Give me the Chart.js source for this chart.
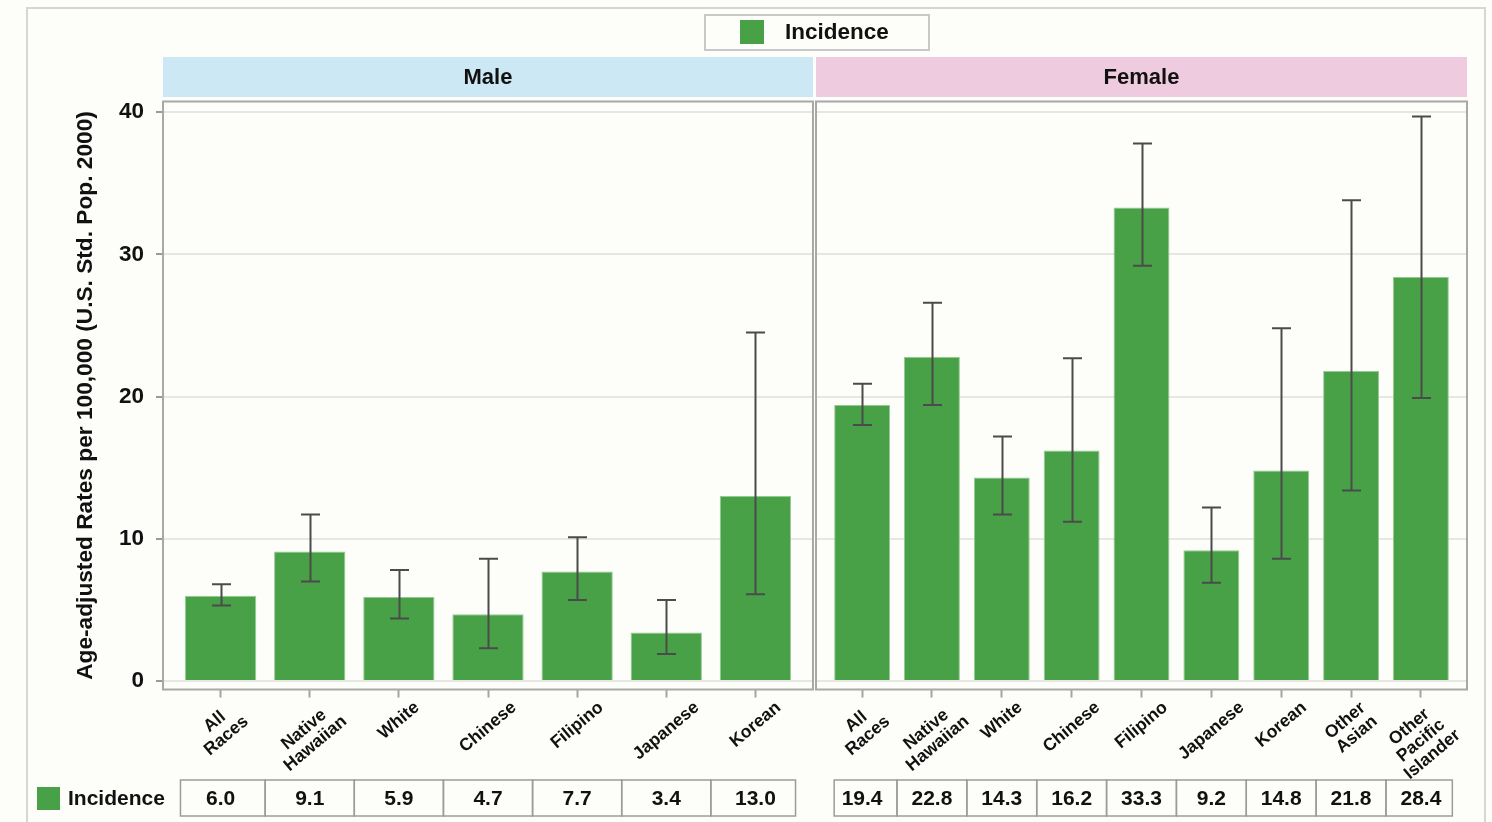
<!DOCTYPE html>
<html>
<head>
<meta charset="utf-8">
<title>Incidence by race and sex</title>
<script src="https://cdn.jsdelivr.net/npm/chart.js@4.4.1/dist/chart.umd.min.js"></script>
<style>
  html, body { margin: 0; padding: 0; background: #fdfdfa; }
  #wrap { position: relative; width: 1492px; height: 822px; overflow: hidden; }
  #frame { position: absolute; left: 26px; top: 7px; width: 1460px; height: 840px; border: 2px solid #d6d6d6; box-sizing: border-box; }
  canvas { position: absolute; left: 0; top: 0; }
</style>
</head>
<body>
<div id="wrap">
  <div id="frame"></div>
  <canvas id="male" width="1492" height="822"></canvas>
  <canvas id="female" width="1492" height="822"></canvas>
</div>
<script>
// rates per 100,000 with 95% confidence limits
var maleLabels = [['All', 'Races'], ['Native', 'Hawaiian'], 'White', 'Chinese', 'Filipino', 'Japanese', 'Korean'];
var maleRates = [6.0, 9.1, 5.9, 4.7, 7.7, 3.4, 13.0];
var maleLower = [5.3, 7.0, 4.4, 2.3, 5.7, 1.9, 6.1];
var maleUpper = [6.8, 11.7, 7.8, 8.6, 10.1, 5.7, 24.5];

var femaleLabels = [['All', 'Races'], ['Native', 'Hawaiian'], 'White', 'Chinese', 'Filipino', 'Japanese', 'Korean',
                    ['Other', 'Asian'], ['Other', 'Pacific', 'Islander']];
var femaleRates = [19.4, 22.8, 14.3, 16.2, 33.3, 9.2, 14.8, 21.8, 28.4];
var femaleLower = [18.0, 19.4, 11.7, 11.2, 29.2, 6.9, 8.6, 13.4, 19.9];
var femaleUpper = [20.9, 26.6, 17.2, 22.7, 37.8, 12.2, 24.8, 33.8, 39.7];

var yTicks = [0, 10, 20, 30, 40];
var seriesName = 'Incidence';

var FONT = '"Liberation Sans", Arial, Helvetica, sans-serif';
var GREEN = '#48a047';
var INK = '#111111';

// strip header, frame, error bars, rotated labels, value table and legends
var panelPlugin = {
    id: 'panel',
    beforeDatasetsDraw: function(chart) {
        var o = chart.options.plugins.panel, a = chart.chartArea, ctx = chart.ctx;
        ctx.save();
        ctx.fillStyle = o.stripColor;
        ctx.fillRect(a.left, 57, a.right - a.left, 40);
        ctx.fillStyle = INK;
        ctx.font = 'bold 22px ' + FONT;
        ctx.textAlign = 'center';
        ctx.textBaseline = 'middle';
        ctx.fillText(o.title, (a.left + a.right) / 2, 78);
        ctx.restore();
    },
    afterDatasetsDraw: function(chart) {
        var o = chart.options.plugins.panel, a = chart.chartArea, ctx = chart.ctx;
        var ys = chart.scales.y;
        var meta = chart.getDatasetMeta(0);
        ctx.save();
        // error bars
        ctx.strokeStyle = '#4b4b4b';
        ctx.lineWidth = 2;
        meta.data.forEach(function(bar, i) {
            var x = Math.round(bar.x) + 0.5;
            var top = ys.getPixelForValue(o.upper[i]);
            var bot = ys.getPixelForValue(o.lower[i]);
            ctx.beginPath();
            ctx.moveTo(x, top); ctx.lineTo(x, bot);
            ctx.moveTo(x - 9.5, top); ctx.lineTo(x + 9.5, top);
            ctx.moveTo(x - 9.5, bot); ctx.lineTo(x + 9.5, bot);
            ctx.stroke();
        });
        // panel frame
        ctx.strokeStyle = '#a8a8a8';
        ctx.lineWidth = 2;
        ctx.strokeRect(a.left, a.top, a.right - a.left, a.bottom - a.top);
        ctx.restore();
    },
    afterDraw: function(chart) {
        var o = chart.options.plugins.panel, a = chart.chartArea, ctx = chart.ctx;
        var xs = chart.scales.x;
        var labels = chart.data.labels;
        var values = chart.data.datasets[0].data;
        var ang = -40 * Math.PI / 180;
        var cos = Math.cos(-ang), sin = Math.sin(-ang);
        ctx.save();
        ctx.fillStyle = INK;

        // category labels, rotated and centred under each tick
        ctx.font = 'bold 17.5px ' + FONT;
        ctx.textAlign = 'center';
        ctx.textBaseline = 'middle';
        var lh = 18;
        labels.forEach(function(lab, i) {
            var lines = Array.isArray(lab) ? lab : [lab];
            var w = 0;
            lines.forEach(function(l) { w = Math.max(w, ctx.measureText(l).width); });
            var h = lines.length * lh;
            var bh = w * sin + h * cos;
            ctx.save();
            ctx.translate(xs.getPixelForValue(i), a.bottom + 9 + bh / 2);
            ctx.rotate(ang);
            lines.forEach(function(l, k) {
                ctx.fillText(l, 0, (k - (lines.length - 1) / 2) * lh);
            });
            ctx.restore();
        });

        // value table
        var step = xs.getPixelForValue(1) - xs.getPixelForValue(0);
        var tTop = 780, tH = 36;
        ctx.strokeStyle = '#9c9c9c';
        ctx.lineWidth = 1.5;
        ctx.font = 'bold 21px ' + FONT;
        values.forEach(function(d, i) {
            var cx = xs.getPixelForValue(i);
            var l = i === 0 ? cx - step * o.tableInset : cx - step / 2;
            var r = i === values.length - 1 ? cx + step * 0.45 : cx + step / 2;
            ctx.strokeRect(l, tTop, r - l, tH);
            ctx.fillText(d.y.toFixed(1), cx, tTop + tH / 2 + 1);
        });

        if (o.legends) {
            var name = chart.data.datasets[0].label;
            // row legend beside the table
            ctx.fillStyle = GREEN;
            ctx.fillRect(37, 787, 23, 23);
            ctx.fillStyle = INK;
            ctx.textAlign = 'left';
            ctx.font = 'bold 21px ' + FONT;
            ctx.fillText(name, 68, 799);
            // top legend box
            ctx.strokeStyle = '#c8c8c8';
            ctx.lineWidth = 2;
            ctx.strokeRect(705, 15, 224, 35);
            ctx.fillStyle = GREEN;
            ctx.fillRect(740, 20, 24, 24);
            ctx.fillStyle = INK;
            ctx.font = 'bold 22.5px ' + FONT;
            ctx.fillText(name, 785, 33);
        }
        ctx.restore();
    }
};

function makePanel(id, opts) {
    var n = opts.rates.length;
    return new Chart(document.getElementById(id), {
        type: 'bar',
        data: {
            labels: opts.labels,
            datasets: [{
                label: seriesName,
                data: opts.rates.map(function(v, i) { return { x: i, y: v }; }),
                backgroundColor: GREEN,
                borderColor: '#95ca93',
                borderWidth: 1,
                categoryPercentage: 1.0,
                barPercentage: 0.8
            }]
        },
        options: {
            responsive: false,
            animation: false,
            layout: { padding: opts.padding },
            plugins: {
                legend: { display: false },
                tooltip: { enabled: false },
                panel: {
                    title: opts.title,
                    stripColor: opts.stripColor,
                    lower: opts.lower,
                    upper: opts.upper,
                    legends: opts.legends,
                    tableInset: opts.tableInset
                }
            },
            scales: {
                x: {
                    type: 'linear',
                    min: -opts.side,
                    max: n - 1 + opts.side,
                    offset: false,
                    afterBuildTicks: function(s) {
                        s.ticks = opts.rates.map(function(v, i) { return { value: i }; });
                    },
                    afterFit: function(s) { s.height = 10; },
                    border: { display: false },
                    grid: { offset: false, drawOnChartArea: false, tickLength: 8, tickColor: '#a4a4a4', tickWidth: 2 },
                    ticks: { display: false }
                },
                y: {
                    min: -0.6,
                    max: 40.75,
                    afterBuildTicks: function(s) {
                        s.ticks = yTicks.map(function(v) { return { value: v }; });
                    },
                    afterFit: function(s) { s.width = opts.axisWidth; },
                    border: { display: false },
                    grid: {
                        color: '#e6e6e2',
                        lineWidth: 2,
                        drawTicks: opts.showAxis,
                        tickLength: 7,
                        tickColor: '#9a9a9a',
                        tickWidth: 2
                    },
                    ticks: {
                        display: opts.showAxis,
                        padding: 12,
                        color: INK,
                        font: { family: FONT, size: 22.5, weight: 'bold' }
                    },
                    title: {
                        display: opts.showAxis,
                        text: 'Age-adjusted Rates per 100,000 (U.S. Std. Pop. 2000)',
                        color: INK,
                        padding: 4,
                        font: { family: FONT, size: 22.7, weight: 'bold' }
                    }
                }
            }
        },
        plugins: [panelPlugin]
    });
}

makePanel('male', {
    title: 'Male', stripColor: '#cce8f4',
    labels: maleLabels, rates: maleRates, lower: maleLower, upper: maleUpper,
    side: 0.646, axisWidth: 95, showAxis: true, legends: true, tableInset: 0.45,
    padding: { left: 68, right: 679, top: 101.5, bottom: 122.5 }
});

makePanel('female', {
    title: 'Female', stripColor: '#efcbdf',
    labels: femaleLabels, rates: femaleRates, lower: femaleLower, upper: femaleUpper,
    side: 0.66, axisWidth: 0, showAxis: false, legends: false, tableInset: 0.4,
    padding: { left: 816, right: 25, top: 101.5, bottom: 122.5 }
});
</script>
</body>
</html>
